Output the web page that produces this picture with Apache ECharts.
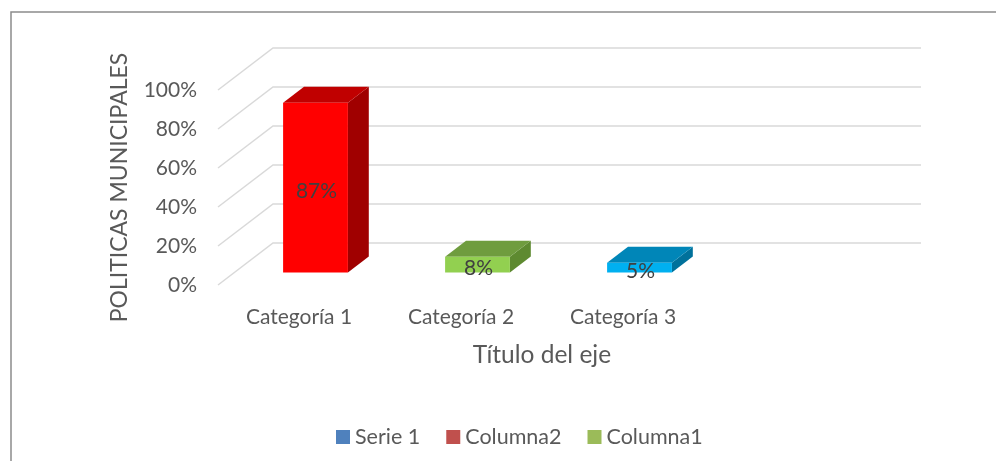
<!DOCTYPE html>
<html>
<head>
<meta charset="utf-8">
<script src="https://cdn.jsdelivr.net/npm/echarts@6/dist/echarts.min.js"></script>
<style>
  html, body { margin: 0; padding: 0; background: #fff; }
  #chart { width: 996px; height: 461px; }
</style>
</head>
<body>
<div id="chart"></div>
<script>
// data
const categories = ['Categoría 1', 'Categoría 2', 'Categoría 3', ''];
const serie1 = [87, 8, 5];
const yTicks = [0, 20, 40, 60, 80, 100];
const legendNames = ['Serie 1', 'Columna2', 'Columna1'];

// styles
const FONT = 'Lato';
const DEPTH = [55, -42]; // oblique offset of the back wall
const barColors = [
    { front: '#FF0000', top: '#C00000', side: '#A00000' },
    { front: '#92D050', top: '#6F9C3E', side: '#5E8A30' },
    { front: '#00B0F0', top: '#0086B8', side: '#00719B' }
];
const legendColors = ['#4F81BD', '#C0504D', '#9BBB59'];

const chart = echarts.init(document.getElementById('chart'));

// back wall gridlines plus slanted side-wall segments
function renderWall(params, api) {
    const cs = params.coordSys;
    const y = api.coord([0, api.value(1)])[1];
    const x0 = cs.x, x1 = cs.x + cs.width;
    return {
        type: 'polyline',
        shape: { points: [[x0, y], [x0 + DEPTH[0], y + DEPTH[1]], [x1 + DEPTH[0], y + DEPTH[1]]] },
        style: { stroke: '#D9D9D9', lineWidth: 1.5, fill: null }
    };
}

// 3d-ish column: front face, top, right side
function renderBar(params, api) {
    const i = api.value(0);
    const v = api.value(1);
    const base = api.coord([i, 0]);
    const top = api.coord([i, v]);
    const w = api.size([1, 0])[0] * 0.4;
    const ox = DEPTH[0] * 0.3, oy = DEPTH[1] * 0.3;
    const dx = DEPTH[0] * 0.38, dy = DEPTH[1] * 0.38;
    const xl = base[0] - w / 2 + ox, xr = xl + w;
    const yb = base[1] + oy, yt = top[1] + oy;
    const c = barColors[i % barColors.length];
    return {
        type: 'group',
        children: [
            { type: 'polygon', shape: { points: [[xr, yt], [xr + dx, yt + dy], [xr + dx, yb + dy], [xr, yb]] }, style: { fill: c.side } },
            { type: 'polygon', shape: { points: [[xl, yt], [xr, yt], [xr + dx, yt + dy], [xl + dx, yt + dy]] }, style: { fill: c.top } },
            { type: 'rect', shape: { x: xl, y: yt, width: w, height: yb - yt }, style: { fill: c.front } },
            {
                type: 'text',
                style: {
                    text: v + '%', x: (xl + xr) / 2 + 1, y: (yt + yb) / 2 + 4,
                    align: 'center', verticalAlign: 'middle',
                    fill: '#404040', font: '21px ' + FONT
                }
            }
        ]
    };
}

const option = {
    animation: false,
    backgroundColor: '#fff',
    textStyle: { fontFamily: FONT },
    graphic: [{
        type: 'rect',
        shape: { x: 11, y: 12, width: 2000, height: 2000 },
        style: { fill: null, stroke: '#8C8C8C', lineWidth: 1.5 },
        silent: true
    }],
    grid: { left: 218, right: 130, top: 90, bottom: 176 },
    legend: {
        data: legendNames,
        left: 331,
        top: 421,
        icon: 'rect',
        itemWidth: 14,
        itemHeight: 14,
        itemGap: 26,
        textStyle: { fontSize: 21.5, color: '#595959', fontFamily: FONT }
    },
    xAxis: {
        type: 'category',
        data: categories,
        name: 'Título del eje',
        nameLocation: 'middle',
        nameGap: 58,
        nameTextStyle: { fontSize: 24.5, color: '#595959', fontFamily: FONT },
        axisLine: { show: false },
        axisTick: { show: false },
        axisLabel: { fontSize: 21, color: '#595959', margin: 22, fontFamily: FONT },
        splitLine: { show: false }
    },
    yAxis: {
        type: 'value',
        min: 0,
        max: 100,
        interval: 20,
        name: 'POLITICAS MUNICIPALES',
        nameLocation: 'middle',
        nameGap: 87,
        nameTextStyle: { fontSize: 23, color: '#595959', fontFamily: FONT },
        axisLine: { show: false },
        axisTick: { show: false },
        axisLabel: { formatter: '{value}%', fontSize: 21, color: '#595959', margin: 21, fontFamily: FONT },
        splitLine: { show: false }
    },
    series: [
        {
            name: 'wall',
            type: 'custom',
            renderItem: renderWall,
            data: yTicks.map(v => [0, v]),
            z: 1,
            silent: true
        },
        {
            name: legendNames[0],
            type: 'custom',
            renderItem: renderBar,
            data: serie1.map((v, i) => [i, v]),
            itemStyle: { color: legendColors[0] },
            z: 3
        },
        { name: legendNames[1], type: 'bar', data: [], itemStyle: { color: legendColors[1] } },
        { name: legendNames[2], type: 'bar', data: [], itemStyle: { color: legendColors[2] } }
    ]
};

chart.setOption(option);
</script>
</body>
</html>
